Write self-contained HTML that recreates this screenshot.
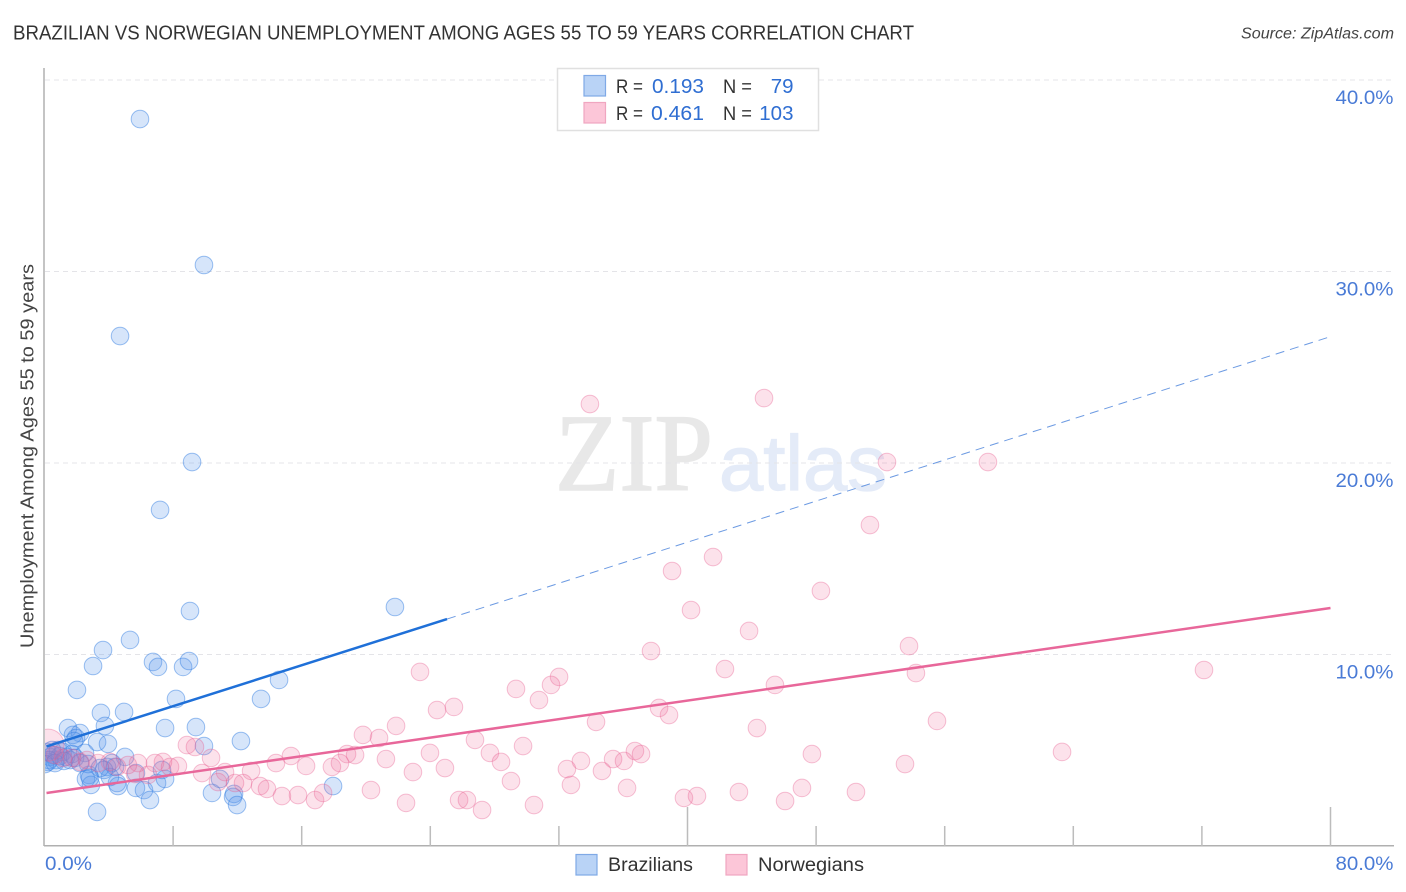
<!DOCTYPE html>
<html lang="en">
<head>
<meta charset="utf-8">
<title>Brazilian vs Norwegian Unemployment Correlation Chart</title>
<style>
html,body{margin:0;padding:0;background:#fff;}
body{width:1406px;height:892px;overflow:hidden;font-family:"Liberation Sans",sans-serif;}
svg{display:block;}
text{font-family:"Liberation Sans",sans-serif;}
</style>
</head>
<body>
<svg id="chart" xmlns="http://www.w3.org/2000/svg" width="1406" height="892" viewBox="0 0 1406 892">
  <defs>
    <clipPath id="plot-clip"><rect x="45" y="60" width="1349" height="786"/></clipPath>
  </defs>
  <text x="13" y="39.5" font-size="20" fill="#333333" textLength="901" lengthAdjust="spacingAndGlyphs">BRAZILIAN VS NORWEGIAN UNEMPLOYMENT AMONG AGES 55 TO 59 YEARS CORRELATION CHART</text>
  <text x="1241" y="38.5" font-size="15.5" font-style="italic" fill="#444" textLength="153" lengthAdjust="spacingAndGlyphs">Source: ZipAtlas.com</text>

  <g>
    <text x="555" y="490" font-size="110" fill="#e8e8e8" stroke="#e8e8e8" stroke-width="1.5" textLength="158" lengthAdjust="spacingAndGlyphs" style="font-family:'Liberation Serif',serif">ZIP</text>
    <text x="719" y="490" font-size="78" fill="#e4ebf8" stroke="#e4ebf8" stroke-width="1.2" textLength="168" lengthAdjust="spacingAndGlyphs">atlas</text>
  </g>

  <g id="grid"></g>
  <g id="axes"></g>
  <g id="marks-blue" clip-path="url(#plot-clip)"></g>
  <g id="marks-pink" clip-path="url(#plot-clip)"></g>
  <g id="trends"></g>
  <g id="tick-labels"></g>

  <text transform="translate(33.5,648) rotate(-90)" font-size="18.5" fill="#444" textLength="384" lengthAdjust="spacingAndGlyphs">Unemployment Among Ages 55 to 59 years</text>

  <g>
    <rect x="557.5" y="68.5" width="261" height="62" fill="#fff" stroke="#e0e0e0" stroke-width="1.5"/>
    <rect x="584" y="75.5" width="21.5" height="20.5" fill="#b9d3f6" stroke="#7fa9e6" stroke-width="1.2"/>
    <rect x="584" y="102.5" width="21.5" height="20.5" fill="#fcc6d8" stroke="#f0a6c0" stroke-width="1.2"/>
    <text x="616" y="93" font-size="19" fill="#333" textLength="27" lengthAdjust="spacingAndGlyphs">R =</text>
    <text x="652" y="93" font-size="20.5" fill="#2f6ed2" textLength="52" lengthAdjust="spacingAndGlyphs">0.193</text>
    <text x="723" y="93" font-size="19" fill="#333" textLength="29" lengthAdjust="spacingAndGlyphs">N =</text>
    <text x="793.5" y="93" font-size="20.5" fill="#2f6ed2" text-anchor="end">79</text>
    <text x="616" y="120" font-size="19" fill="#333" textLength="27" lengthAdjust="spacingAndGlyphs">R =</text>
    <text x="651" y="120" font-size="20.5" fill="#2f6ed2" textLength="53" lengthAdjust="spacingAndGlyphs">0.461</text>
    <text x="723" y="120" font-size="19" fill="#333" textLength="29" lengthAdjust="spacingAndGlyphs">N =</text>
    <text x="793.5" y="120" font-size="20.5" fill="#2f6ed2" text-anchor="end">103</text>
  </g>

  <g>
    <rect x="576" y="854.5" width="21" height="20.5" fill="#b9d3f6" stroke="#7fa9e6" stroke-width="1.2"/>
    <text x="608" y="871" font-size="19" fill="#333" textLength="85" lengthAdjust="spacingAndGlyphs">Brazilians</text>
  </g>
  <g>
    <rect x="726" y="854.5" width="21" height="20.5" fill="#fcc6d8" stroke="#f0a6c0" stroke-width="1.2"/>
    <text x="758" y="871" font-size="19" fill="#333" textLength="106" lengthAdjust="spacingAndGlyphs">Norwegians</text>
  </g>
</svg>

<script>
const xTicks = [0, 8, 16, 24, 32, 40, 48, 56, 64, 72, 80];
const xTallTicks = [40, 80];
const yTicks = [10, 20, 30, 40];
const yTickLabels = ["10.0%", "20.0%", "30.0%", "40.0%"];
const xEndLabels = ["0.0%", "80.0%"];
const xEndValues = [0, 80];

const brazilianX = [5.94,9.92,4.70,9.18,7.19,21.80,9.05,3.64,5.32,3.02,6.75,7.06,8.62,8.99,2.02,8.18,14.59,13.47,3.51,4.95,1.46,3.76,7.50,9.42,12.22,9.92,2.21,1.77,1.96,1.84,3.27,3.95,5.01,2.52,2.77,2.58,2.89,4.51,4.57,5.69,6.19,6.56,7.00,7.50,7.31,5.69,3.27,10.42,10.92,11.79,11.73,11.98,17.95,4.20,3.89,4.39,4.07,0.16,0.34,0.22,0.53,0.72,0.96,1.15,1.34,1.59,1.71,0.84,0.47,0.28,0.03,0.65,1.21,1.90,2.71,3.45,3.70,2.83,2.21];
const brazilianY = [37.96,30.34,26.63,20.05,17.55,12.48,12.27,10.23,10.76,9.40,9.61,9.35,9.35,9.66,8.15,7.68,8.67,7.68,6.95,7.00,6.16,6.27,6.16,6.21,5.48,5.22,5.90,5.80,5.64,5.48,5.43,5.33,4.65,4.86,3.71,3.50,3.19,3.29,3.13,3.03,2.92,2.40,3.29,3.50,3.97,3.81,1.78,2.77,3.50,2.72,2.56,2.14,3.13,4.33,4.13,4.13,3.60,4.91,4.65,4.39,4.75,4.49,4.70,4.91,4.65,4.49,4.80,5.01,5.01,4.49,4.28,4.33,4.44,4.60,4.28,4.07,3.97,3.55,4.33];

const norwegianX = [33.93,44.76,52.41,58.69,51.35,41.59,39.04,40.22,48.30,43.83,53.78,37.73,42.33,54.21,72.13,45.44,23.36,32.01,31.51,29.33,30.76,24.42,25.47,38.23,38.85,34.31,55.52,44.32,21.87,19.81,20.81,26.78,29.77,36.73,37.11,63.30,47.74,23.98,27.71,18.82,19.32,15.33,21.24,28.40,33.37,35.37,36.05,53.53,14.40,16.27,17.88,18.38,22.92,24.91,32.50,34.68,29.02,32.75,20.31,36.24,43.20,47.12,50.48,22.49,25.79,26.28,27.22,30.45,39.78,40.59,46.07,8.86,9.36,10.36,11.23,9.80,12.85,12.35,11.85,10.79,13.41,13.84,14.77,15.77,16.83,17.33,8.30,7.37,6.87,7.81,6.44,5.82,5.63,5.19,4.51,4.07,3.33,2.64,2.21,1.71,1.15,0.65,0.22];
const norwegianY = [23.08,23.39,20.05,20.05,16.76,15.09,14.36,12.32,13.32,11.23,10.44,10.18,9.24,9.03,9.19,8.41,9.09,8.83,8.41,8.20,7.62,7.10,7.26,7.21,6.84,6.48,6.53,6.16,6.27,5.80,5.64,5.54,5.22,4.96,4.80,4.91,4.80,4.86,4.86,4.80,4.75,4.70,4.54,4.39,4.44,4.54,4.44,4.28,4.33,4.18,4.13,4.33,3.86,4.07,4.02,3.92,3.39,3.19,2.92,3.03,2.82,3.03,2.82,2.25,2.40,2.40,1.88,2.14,2.51,2.61,2.35,5.27,5.17,4.60,3.86,3.81,3.92,3.29,3.29,3.34,3.13,2.98,2.61,2.66,2.40,2.77,4.18,4.39,4.33,4.13,3.71,4.33,3.76,4.23,4.13,4.39,4.33,4.49,4.39,4.60,4.60,4.75,5.27];

const brazilianTrendX = [0, 25.04, 80];
const brazilianTrendY = [5.2, 11.85, 26.6];
const norwegianTrendX = [0, 80];
const norwegianTrendY = [2.77, 12.43];

const X0 = 44.5, XPER = 16.075, Y0 = 846, YPER = 19.15;
function xScale(v) { return X0 + v * XPER; }
function yScale(v) { return Y0 - v * YPER; }

const NS = "http://www.w3.org/2000/svg";
function make(tag, parentId, attrs, text) {
  const el = document.createElementNS(NS, tag);
  for (const k in attrs) el.setAttribute(k, attrs[k]);
  if (text !== undefined) el.textContent = text;
  document.getElementById(parentId).appendChild(el);
  return el;
}

/* gridlines */
yTicks.forEach(function (v) {
  const el = make("line", "grid", { x1: 45, x2: 1394, y1: yScale(v), y2: yScale(v), stroke: "#e4e4e8", "stroke-width": 1, "stroke-dasharray": "5 4" });
  
  
});

/* axes */
const yAxis = make("line", "axes", { x1: 44, x2: 44, y1: 68, y2: 846, stroke: "#b0b0b0", "stroke-width": 1.5 });


const xAxis = make("line", "axes", { x1: 44, x2: 1394, y1: 845.7, y2: 845.7, stroke: "#b0b0b0", "stroke-width": 1.5 });


xTicks.forEach(function (v) {
  if (v === 0) return;
  const top = xTallTicks.indexOf(v) >= 0 ? 807 : 826;
  const el = make("line", "axes", { x1: xScale(v), x2: xScale(v), y1: top, y2: 846, stroke: "#bcbcbc", "stroke-width": 1.5 });
  
  
});

/* points */
brazilianX.forEach(function (v, i) {
  const el = make("circle", "marks-blue", { cx: xScale(v), cy: yScale(brazilianY[i]), r: 8.8, fill: "rgba(90,150,235,0.25)", stroke: "rgba(50,125,225,0.48)", "stroke-width": 1 });
  
  
});
norwegianX.forEach(function (v, i) {
  const r = i === norwegianX.length - 1 ? 16 : 8.8;
  const el = make("circle", "marks-pink", { cx: xScale(v), cy: yScale(norwegianY[i]), r: r, fill: "rgba(240,110,155,0.20)", stroke: "rgba(232,95,145,0.38)", "stroke-width": 1 });
  
  
});

/* trend lines */
const blueSolid = make("line", "trends", { x1: xScale(brazilianTrendX[0]) + 2, y1: yScale(brazilianTrendY[0]), x2: xScale(brazilianTrendX[1]), y2: yScale(brazilianTrendY[1]), stroke: "#1f70d8", "stroke-width": 2.5 });


const blueDash = make("line", "trends", { x1: xScale(brazilianTrendX[1]), y1: yScale(brazilianTrendY[1]), x2: xScale(brazilianTrendX[2]), y2: yScale(brazilianTrendY[2]), stroke: "#6c9ae2", "stroke-width": 1, "stroke-dasharray": "9 6" });


const pinkSolid = make("line", "trends", { x1: xScale(norwegianTrendX[0]) + 2, y1: yScale(norwegianTrendY[0]), x2: xScale(norwegianTrendX[1]), y2: yScale(norwegianTrendY[1]), stroke: "#e8679a", "stroke-width": 2.5 });



/* tick labels */
yTicks.forEach(function (v, i) {
  const el = make("text", "tick-labels", { x: 1393.5, y: yScale(v) + 24, "font-size": 19.5, fill: "#4a7bd6", "text-anchor": "end" }, yTickLabels[i]);
  el.setAttribute('textLength', '58');
  el.setAttribute('lengthAdjust', 'spacingAndGlyphs');
  
  
});
const xLabelLeft = make("text", "tick-labels", { x: xScale(xEndValues[0]) + 0.5, y: 870, "font-size": 19.5, fill: "#4a7bd6", textLength: 47, lengthAdjust: "spacingAndGlyphs" }, xEndLabels[0]);


const xLabelRight = make("text", "tick-labels", { x: 1393.5, y: 870, "font-size": 19.5, fill: "#4a7bd6", "text-anchor": "end", textLength: 58, lengthAdjust: "spacingAndGlyphs" }, xEndLabels[1]);


</script>
</body>
</html>
